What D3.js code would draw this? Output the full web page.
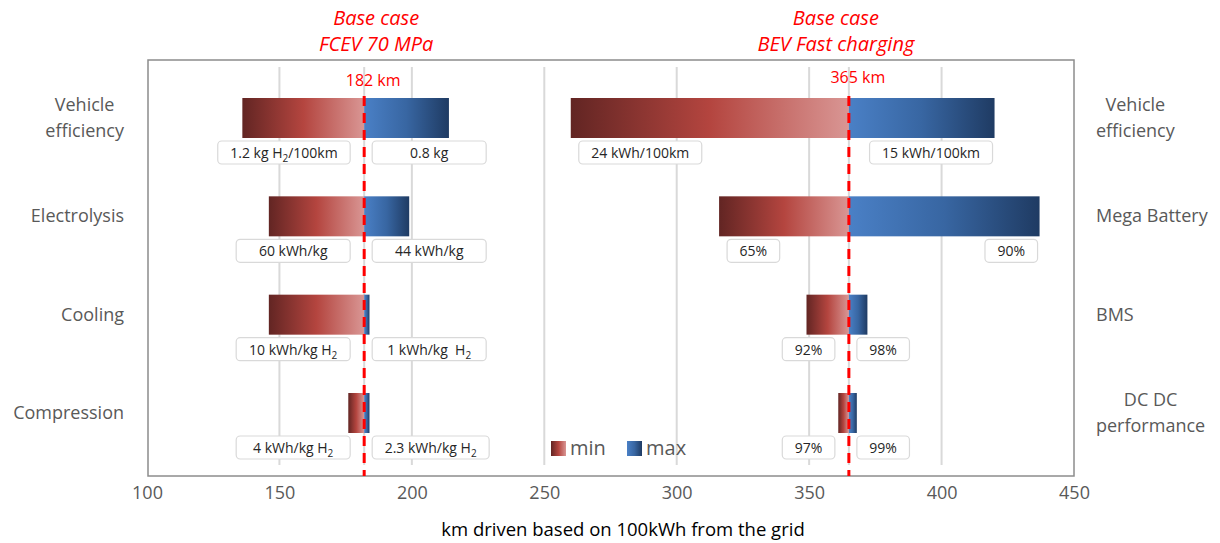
<!DOCTYPE html>
<html lang="en">
<head>
  <meta charset="UTF-8">
  <title>km driven based on 100kWh from the grid</title>
  <script src="https://d3js.org/d3.v7.min.js"></script>
  <style>
    body {
      margin: 0;
      background: #fff;
      font-family: 'Open Sans', sans-serif;
    }
    .cat { font-size: 18px; fill: #595959; }
    .tick text { font-size: 18px; fill: #595959; font-family: 'Open Sans', sans-serif; }
    .box rect { fill: #fff; stroke: #d9d9d9; stroke-width: 1.2; }
    .box text { font-size: 14px; fill: #262626; white-space: pre; }
    .title { font-size: 20px; font-style: italic; fill: #ff0000; text-anchor: middle; }
    .baseLabel { font-size: 16px; fill: #ff0000; }
    .legend { font-size: 20px; fill: #595959; }
  </style>
</head>
<body>
  <div id="chart"></div>
  <script>
    const width = 1220;
    const height = 543;

    // Data
    const xTicks = [100, 150, 200, 250, 300, 350, 400, 450];

    const fcevTitle = ["Base case", "FCEV 70 MPa"];
    const fcevBase = 182;
    const fcevCats = ["Vehicle\nefficiency", "Electrolysis", "Cooling", "Compression"];
    const fcevMin = [136, 146, 146, 176];
    const fcevMax = [214, 199, 184, 184];
    const fcevMinLabels = ["1.2 kg H_2/100km", "60 kWh/kg", "10 kWh/kg H_2", "4 kWh/kg H_2"];
    const fcevMaxLabels = ["0.8 kg", "44 kWh/kg", "1 kWh/kg  H_2", "2.3 kWh/kg H_2"];

    const bevTitle = ["Base case", "BEV Fast charging"];
    const bevBase = 365;
    const bevCats = ["Vehicle\nefficiency", "Mega Battery", "BMS", "DC DC\nperformance"];
    const bevMin = [260, 316, 349, 361];
    const bevMax = [420, 437, 372, 368];
    const bevMinLabels = ["24 kWh/100km", "65%", "92%", "97%"];
    const bevMaxLabels = ["15 kWh/100km", "90%", "98%", "99%"];

    const legendItems = ["min", "max"];

    const svg = d3.select("#chart")
      .append("svg")
      .attr("width", width)
      .attr("height", height);

    const x = d3.scaleLinear().domain([100, 450]).range([147, 1074]);
    const y = d3.scalePoint().domain(d3.range(4)).range([118, 413]);
    const barH = 40;
    const plotTop = 60, plotBottom = 476;

    // gradients
    const defs = svg.append("defs");
    const minGrad = defs.append("linearGradient").attr("id", "gMin");
    minGrad.append("stop").attr("offset", "0%").attr("stop-color", "#622523");
    minGrad.append("stop").attr("offset", "50%").attr("stop-color", "#b4453f");
    minGrad.append("stop").attr("offset", "100%").attr("stop-color", "#d99694");
    const maxGrad = defs.append("linearGradient").attr("id", "gMax");
    maxGrad.append("stop").attr("offset", "0%").attr("stop-color", "#4a80c6");
    maxGrad.append("stop").attr("offset", "50%").attr("stop-color", "#3866a2");
    maxGrad.append("stop").attr("offset", "100%").attr("stop-color", "#1f3b63");

    // frame
    svg.append("rect")
      .attr("x", x(100) + 1)
      .attr("y", plotTop)
      .attr("width", x(450) - x(100) - 1)
      .attr("height", plotBottom - plotTop)
      .attr("fill", "none")
      .attr("stroke", "#8c8c8c")
      .attr("stroke-width", 1.5);

    // gridlines
    svg.selectAll(".grid")
      .data(xTicks.filter(t => t > 100 && t < 450))
      .enter()
      .append("line")
      .attr("class", "grid")
      .attr("x1", d => x(d)).attr("x2", d => x(d))
      .attr("y1", 67).attr("y2", 465)
      .attr("stroke", "#d9d9d9")
      .attr("stroke-width", 2);

    // x axis
    const xAxis = svg.append("g")
      .attr("transform", `translate(0,${plotBottom + 7})`)
      .call(d3.axisBottom(x).tickValues(xTicks).tickSize(0).tickFormat(d3.format("d")));
    xAxis.select(".domain").remove();

    svg.append("text")
      .attr("x", 623)
      .attr("y", 536)
      .attr("text-anchor", "middle")
      .attr("font-size", 18.5)
      .attr("fill", "#000")
      .text("km driven based on 100kWh from the grid");

    // text with _2 style subscripts
    function richText(sel, str) {
      let shifted = false;
      str.split(/(_\d)/).forEach(part => {
        if (!part) return;
        if (part[0] === "_") {
          sel.append("tspan").attr("dy", 4).attr("font-size", 10).text(part.slice(1));
          shifted = true;
        } else {
          const t = sel.append("tspan").text(part);
          if (shifted) { t.attr("dy", -4); shifted = false; }
        }
      });
    }

    function drawBox(side, top, str, align, i, p) {
      const g = svg.append("g").attr("class", "box");
      const rect = g.append("rect");
      const txt = g.append("text").attr("text-anchor", "middle").attr("y", top + 17);
      richText(txt, str);
      const w = Math.max(txt.node().getComputedTextLength() + 25, p.minBox);
      let left;
      if (side === "min") {
        left = align === "outer" ? x(p.min[i]) + 8 : x(p.base) - 14 - w;
      } else {
        left = align === "outer" ? x(p.max[i]) - 2 - w : x(p.base) + 8;
      }
      rect.attr("x", left).attr("y", top).attr("width", w).attr("height", 23).attr("rx", 4);
      txt.attr("x", left + w / 2);
    }

    function drawCat(str, i, anchorX, side) {
      const lines = str.split("\n");
      const t = svg.append("text").attr("class", "cat");
      const cy = y(i);
      const spans = lines.map((ln, k) => t.append("tspan")
        .attr("y", cy + 6 + (k - (lines.length - 1) / 2) * 26)
        .text(ln));
      const maxW = d3.max(spans, s => s.node().getComputedTextLength());
      const cx = side === "left" ? anchorX - maxW / 2 : anchorX + maxW / 2;
      spans.forEach(s => s.attr("x", cx).attr("text-anchor", "middle"));
    }

    const panels = [
      { title: fcevTitle, base: fcevBase, cats: fcevCats, min: fcevMin, max: fcevMax,
        minLabels: fcevMinLabels, maxLabels: fcevMaxLabels,
        align: ["inner", "inner", "inner", "inner"], minBox: 114,
        titleDx: 12, catSide: "left", catX: 124, baseLabelY: 86 },
      { title: bevTitle, base: bevBase, cats: bevCats, min: bevMin, max: bevMax,
        minLabels: bevMinLabels, maxLabels: bevMaxLabels,
        align: ["outer", "outer", "inner", "inner"], minBox: 0,
        titleDx: -13, catSide: "right", catX: 1096, baseLabelY: 83 }
    ];

    panels.forEach(p => {
      const bx = x(p.base);

      // light line behind the base
      svg.append("line")
        .attr("x1", bx).attr("x2", bx)
        .attr("y1", 67).attr("y2", 465)
        .attr("stroke", "#d9d9d9").attr("stroke-width", 2);

      // bars
      svg.selectAll(null)
        .data(p.min)
        .enter()
        .append("rect")
        .attr("x", d => x(d))
        .attr("y", (d, i) => y(i) - barH / 2)
        .attr("width", d => bx - x(d))
        .attr("height", barH)
        .attr("fill", "url(#gMin)");

      svg.selectAll(null)
        .data(p.max)
        .enter()
        .append("rect")
        .attr("x", bx)
        .attr("y", (d, i) => y(i) - barH / 2)
        .attr("width", d => x(d) - bx)
        .attr("height", barH)
        .attr("fill", "url(#gMax)");

      // value boxes
      p.minLabels.forEach((s, i) => drawBox("min", y(i) + barH / 2 + 3, s, p.align[i], i, p));
      p.maxLabels.forEach((s, i) => drawBox("max", y(i) + barH / 2 + 3, s, p.align[i], i, p));

      // base case dashed line
      svg.append("line")
        .attr("x1", bx).attr("x2", bx)
        .attr("y1", 96).attr("y2", plotBottom)
        .attr("stroke", "#ff0000")
        .attr("stroke-width", 3)
        .attr("stroke-dasharray", "10,7");

      svg.append("text")
        .attr("class", "baseLabel")
        .attr("x", bx + 9)
        .attr("y", p.baseLabelY)
        .attr("text-anchor", "middle")
        .text(`${p.base} km`);

      // title
      p.title.forEach((ln, k) => {
        svg.append("text")
          .attr("class", "title")
          .attr("x", bx + p.titleDx)
          .attr("y", 25 + k * 26)
          .text(ln);
      });

      // categories
      p.cats.forEach((c, i) => drawCat(c, i, p.catX, p.catSide));
    });

    // legend
    const lg = svg.append("g").attr("transform", "translate(551,441)");
    legendItems.forEach((name, k) => {
      const g = lg.append("g").attr("transform", `translate(${k * 76},0)`);
      g.append("rect").attr("width", 15).attr("height", 15)
        .attr("fill", name === "min" ? "url(#gMin)" : "url(#gMax)");
      g.append("text").attr("class", "legend").attr("x", 19).attr("y", 14).text(name);
    });
  </script>
</body>
</html>
